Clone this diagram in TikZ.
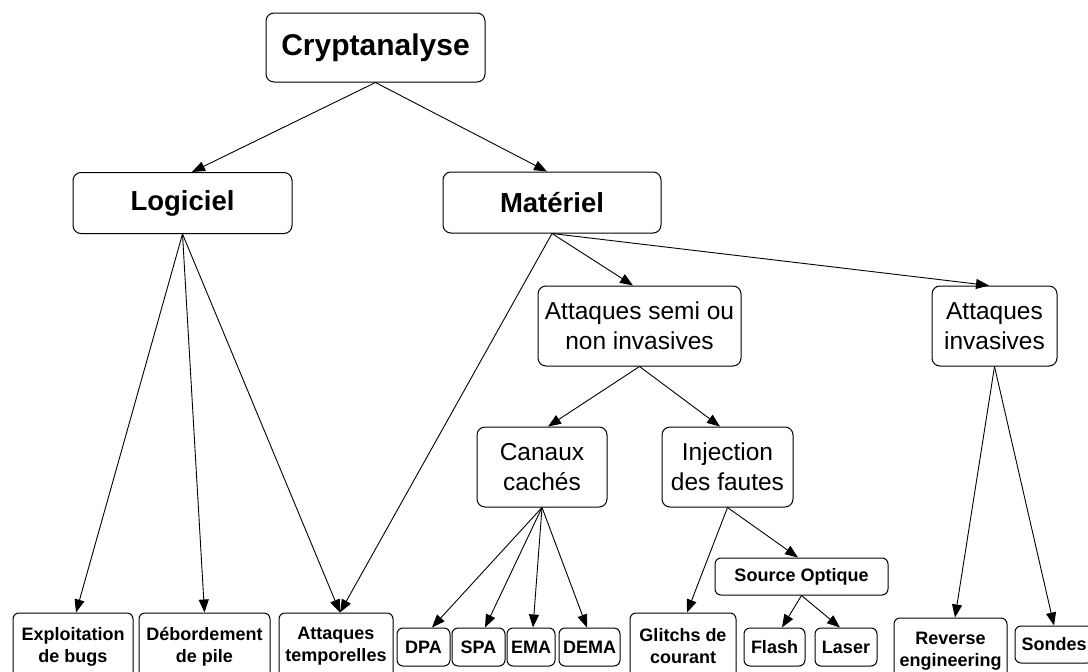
\documentclass[tikz,border=0pt]{standalone}
\usepackage{fontspec}
\setmainfont{Liberation Sans}
\usetikzlibrary{arrows.meta}
\begin{document}
\begin{tikzpicture}[x=1pt,y=-1pt,
  box/.style={draw, line width=1pt, rounded corners=8pt, inner sep=0pt, align=center, fill=white},
  big/.style={box, font=\fontsize{30}{34}\selectfont\bfseries},
  mid/.style={box, font=\fontsize{24.5}{30}\selectfont},
  small/.style={box, rounded corners=6pt, font=\fontsize{18}{22}\selectfont\bfseries},
  arr/.style={line width=0.9pt, -{Triangle[length=13pt,width=10pt]}}
]
\useasboundingbox (0,0) rectangle (1088,672);
\clip (0,0) rectangle (1088,672);

\node[big, minimum width=219pt, minimum height=69pt] (crypt) at (375.5,47.5) {Cryptanalyse};
\node[big, font=\fontsize{27.5}{32}\selectfont\bfseries, minimum width=219pt, minimum height=61pt] (logi) at (182.5,203) {Logiciel};
\node[big, font=\fontsize{27.5}{32}\selectfont\bfseries, minimum width=218pt, minimum height=61pt] (mat) at (552,202.5) {Matériel};
\node[mid, minimum width=203pt, minimum height=80pt] (semi) at (639.5,326) {Attaques semi ou\\non invasives};
\node[mid, minimum width=125pt, minimum height=80pt] (inv) at (994.5,326) {Attaques\\invasives};
\node[mid, minimum width=130pt, minimum height=80pt] (canaux) at (542,467) {Canaux\\cachés};
\node[mid, minimum width=131pt, minimum height=80pt] (inj) at (727.5,467) {Injection\\des fautes};

\node[small, minimum width=120pt, minimum height=67pt] (expl) at (73,646.5) {Exploitation\\de bugs};
\node[small, minimum width=131pt, minimum height=67pt] (debo) at (204.5,646.5) {Débordement\\de pile};
\node[small, minimum width=114pt, minimum height=67pt] (temp) at (336,646.5) {Attaques\\temporelles};
\node[small, minimum width=53pt, minimum height=38pt] (dpa) at (423.5,647) {DPA};
\node[small, minimum width=53pt, minimum height=38pt] (spa) at (478.5,647) {SPA};
\node[small, minimum width=48pt, minimum height=38pt] (ema) at (531,647) {EMA};
\node[small, minimum width=61pt, minimum height=38pt] (dema) at (589.5,647) {DEMA};
\node[small, minimum width=106pt, minimum height=67pt] (glitch) at (683,646.5) {Glitchs de\\courant};
\node[small, minimum width=173pt, minimum height=37pt] (source) at (801.5,576.5) {Source Optique};
\node[small, minimum width=61pt, minimum height=38pt] (flash) at (774.5,647) {Flash};
\node[small, minimum width=62pt, minimum height=38pt] (laser) at (846,647) {Laser};
\node[small, minimum width=113pt, minimum height=67pt] (rev) at (950.5,651.5) {Reverse\\engineering};
\node[small, minimum width=78pt, minimum height=37pt] (sondes) at (1054,644.5) {Sondes};

\draw[arr] (crypt.south) -- ([xshift=9.5pt]logi.north);
\draw[arr] (crypt.south) -- ([xshift=-5pt]mat.north);

\draw[arr] (logi.south) -- ([xshift=3pt]expl.north);
\draw[arr] (logi.south) -- (debo.north);
\draw[arr] (logi.south) -- ([xshift=4pt]temp.north);

\draw[arr] (mat.south) -- ([xshift=4pt]temp.north);
\draw[arr] (mat.south) -- ([xshift=-6.5pt]semi.north);
\draw[arr] (mat.south) -- ([xshift=-5.5pt]inv.north);

\draw[arr] (semi.south) -- ([xshift=6pt]canaux.north);
\draw[arr] (semi.south) -- ([xshift=-7.5pt]inj.north);

\draw[arr] (canaux.south) -- ([xshift=8.5pt]dpa.north);
\draw[arr] (canaux.south) -- ([xshift=6.5pt]spa.north);
\draw[arr] (canaux.south) -- ([xshift=2pt]ema.north);
\draw[arr] (canaux.south) -- ([xshift=-2.5pt]dema.north);

\draw[arr] (inj.south) -- ([xshift=4pt]glitch.north);
\draw[arr] (inj.south) -- ([xshift=-3.5pt]source.north);

\draw[arr] (source.south) -- ([xshift=7.5pt]flash.north);
\draw[arr] (source.south) -- ([xshift=-6pt]laser.north);

\draw[arr] (inv.south) -- ([xshift=4.5pt]rev.north);
\draw[arr] (inv.south) -- (sondes.north);
\end{tikzpicture}
\end{document}
